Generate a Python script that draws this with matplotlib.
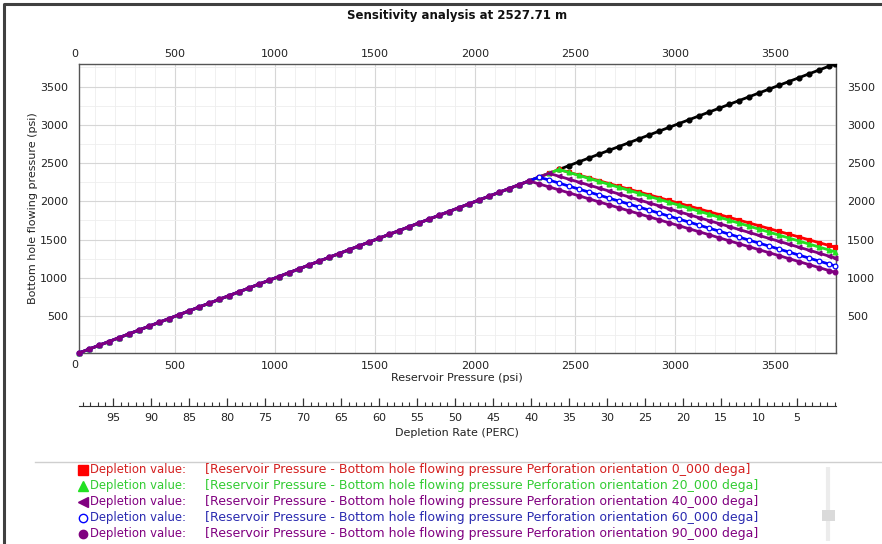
import matplotlib
matplotlib.use("Agg")
import matplotlib.pyplot as plt
from matplotlib.ticker import MultipleLocator, FixedLocator, NullFormatter
from matplotlib.transforms import ScaledTranslation

# Reservoir pressure steps (psi) on the common rising branch
pres_rise = [20, 70, 120, 170, 220, 270, 320, 370, 420, 470, 520, 570, 620, 670,
             720, 770, 820, 870, 920, 970, 1020, 1070, 1120, 1170, 1220, 1270,
             1320, 1370, 1420, 1470, 1520, 1570, 1620, 1670, 1720, 1770, 1820,
             1870, 1920, 1970, 2020, 2070, 2120, 2170, 2220, 2270, 2320, 2370, 2420]
bhp_rise = [16, 66, 116, 166, 216, 266, 316, 366, 416, 466, 516, 566, 616, 666,
            716, 766, 816, 866, 916, 966, 1016, 1066, 1116, 1166, 1216, 1266,
            1316, 1366, 1416, 1466, 1516, 1566, 1616, 1666, 1716, 1766, 1816,
            1866, 1916, 1966, 2016, 2066, 2116, 2166, 2216, 2266, 2316, 2366, 2416]

# Pressure steps above 2420 psi
pres_tail = [2470, 2520, 2570, 2620, 2670, 2720, 2770, 2820, 2870, 2920, 2970,
             3020, 3070, 3120, 3170, 3220, 3270, 3320, 3370, 3420, 3470, 3520,
             3570, 3620, 3670, 3720, 3770, 3800]

bhp_ref_tail = [2466, 2516, 2566, 2616, 2666, 2716, 2766, 2816, 2866, 2916, 2966,
                3016, 3066, 3116, 3166, 3216, 3266, 3316, 3366, 3416, 3466, 3516,
                3566, 3616, 3666, 3716, 3766, 3796]

bhp_0_tail = [2379, 2342, 2306, 2269, 2232, 2195, 2158, 2122, 2085, 2048, 2011,
              1974, 1938, 1901, 1864, 1827, 1790, 1754, 1717, 1680, 1643, 1606,
              1570, 1533, 1496, 1459, 1422, 1400]
bhp_20_tail = [2377, 2338, 2299, 2260, 2221, 2182, 2143, 2104, 2065, 2026, 1987,
               1948, 1909, 1870, 1831, 1792, 1753, 1714, 1675, 1636, 1597, 1558,
               1519, 1480, 1441, 1402, 1363, 1340]
bhp_40_tail = [2327, 2289, 2250, 2211, 2173, 2134, 2095, 2057, 2018, 1979, 1941,
               1902, 1863, 1825, 1786, 1747, 1709, 1670, 1631, 1593, 1554, 1515,
               1477, 1438, 1399, 1361, 1322, 1283, 1260]
bhp_60_tail = [2277, 2238, 2198, 2159, 2120, 2081, 2041, 2002, 1963, 1924, 1885,
               1845, 1806, 1767, 1728, 1688, 1649, 1610, 1571, 1532, 1492, 1453,
               1414, 1375, 1336, 1296, 1257, 1218, 1179, 1155]
bhp_90_tail = [2227, 2188, 2149, 2110, 2071, 2032, 1992, 1953, 1914, 1875, 1836,
               1797, 1758, 1719, 1680, 1641, 1602, 1563, 1523, 1484, 1445, 1406,
               1367, 1328, 1289, 1250, 1211, 1172, 1133, 1094, 1070]

orientations = ["0_000", "20_000", "40_000", "60_000", "90_000"]
line_colors = ["#ff0000", "#22e022", "#800080", "#0000ff", "#800080"]
text_colors = ["#d42020", "#33cc33", "#800080", "#2a2ab0", "#800080"]
markers = ["s", "^", "<", "o", "o"]
hollow = [False, False, False, True, False]

P_INIT = 3800.0
XMIN, XMAX = 20, 3805
YMIN, YMAX = 16, 3795
major_ticks = [500, 1000, 1500, 2000, 2500, 3000, 3500]

series = [
    (pres_rise + pres_tail, bhp_rise + bhp_0_tail),
    (pres_rise + pres_tail, bhp_rise + bhp_20_tail),
    (pres_rise[:48] + [2420] + pres_tail, bhp_rise[:48] + bhp_40_tail),
    (pres_rise[:47] + [2370, 2420] + pres_tail, bhp_rise[:47] + bhp_60_tail),
    (pres_rise[:46] + [2320, 2370, 2420] + pres_tail, bhp_rise[:46] + bhp_90_tail),
]

W, H = 882, 544
fig = plt.figure(figsize=(W / 100, H / 100), dpi=100)
fig.patch.set_facecolor("white")


def px(x0, y0, x1, y1):
    """axes rect from pixel box (top-left origin)"""
    return [x0 / W, 1 - y1 / H, (x1 - x0) / W, (y1 - y0) / H]


tick_col = "#222222"
fs = 8

# frame, legend separator and scrollbar, drawn in pixel coordinates
deco = fig.add_axes([0, 0, 1, 1])
deco.set_xlim(0, W)
deco.set_ylim(H, 0)
deco.axis("off")
deco.set_zorder(-1)
deco.plot([3.5, 3.5, W + 5], [H + 5, 3.5, 3.5], color="#404040", lw=2.2,
          solid_capstyle="butt")
deco.plot([35, W], [462, 462], color="#cfcfcf", lw=1)
deco.plot([828, 828], [467, 541], color="#ececec", lw=3, solid_capstyle="butt")
deco.add_patch(plt.Rectangle((822, 510), 13, 11, facecolor="#dadada", lw=0, zorder=5))

# ── main chart ──────────────────────────────────────────────────────
ax = fig.add_axes(px(79, 64, 836, 353))
ax.plot(pres_rise[-1:] + pres_tail, bhp_rise[-1:] + bhp_ref_tail, color="black",
        lw=2, marker="o", ms=3.4, zorder=3)
for (xs, ys), c, m, h in zip(series, line_colors, markers, hollow):
    ax.plot(xs, ys, color=c, lw=2, marker=m, ms=3.4,
            mfc="white" if h else c, mec=c, mew=0.9, zorder=4, clip_on=False)

ax.set_xlim(XMIN, XMAX)
ax.set_ylim(YMIN, YMAX)
ax.xaxis.set_major_locator(FixedLocator(major_ticks))
ax.xaxis.set_minor_locator(MultipleLocator(100))
ax.yaxis.set_major_locator(FixedLocator(major_ticks))
ax.yaxis.set_minor_locator(MultipleLocator(250))
ax.grid(which="major", color="#d6d6d6", lw=0.8)
ax.grid(which="minor", color="#eeeeee", lw=0.6)
ax.set_axisbelow(True)
ax.tick_params(which="both", length=0, labelsize=fs, labelcolor=tick_col)
ax.tick_params(axis="x", which="major", pad=6, top=True, labeltop=True)
ax.tick_params(axis="y", which="major", pad=8, right=True, labelright=True)
for sp in ax.spines.values():
    sp.set_color("#555555")
    sp.set_linewidth(1.0)

# top tick labels sit a bit closer to the frame
shift = ScaledTranslation(0, -3.5 / 100, fig.dpi_scale_trans)
for t in ax.xaxis.get_major_ticks():
    t.label2.set_transform(t.label2.get_transform() + shift)

# the "0" labels sit at zero pressure, just left of the frame
zero_x = 79 + (0 - XMIN) / (XMAX - XMIN) * (836 - 79)
fig.text(zero_x / W, 1 - 54 / H, "0", ha="center", va="center", fontsize=fs, color=tick_col)
fig.text(zero_x / W, 1 - 365 / H, "0", ha="center", va="center", fontsize=fs, color=tick_col)

fig.text(457 / W, 1 - 378 / H, "Reservoir Pressure (psi)", ha="center", va="center",
         fontsize=fs, color=tick_col)
fig.text(33 / W, 1 - 208 / H, "Bottom hole flowing pressure (psi)", ha="center",
         va="center", rotation=90, fontsize=fs, color=tick_col)
fig.text(457 / W, 1 - 15 / H, "Sensitivity analysis at 2527.71 m", ha="center",
         va="center", fontsize=8.5, fontweight="bold", color="#111111")

# ── depletion rate scale under the chart ────────────────────────────
dep = fig.add_axes(px(79, 400, 836, 406))
dep.set_xlim(100 * (1 - XMIN / P_INIT), 100 * (1 - XMAX / P_INIT))
dep.set_ylim(0, 1)
for s in ["top", "left", "right"]:
    dep.spines[s].set_visible(False)
dep.spines["bottom"].set_color("#333333")
dep.patch.set_alpha(0)
dep.set_yticks([])
dep.xaxis.set_major_locator(FixedLocator(list(range(5, 100, 5))))
dep.xaxis.set_minor_locator(MultipleLocator(1))
dep.xaxis.set_minor_formatter(NullFormatter())
dep.tick_params(axis="x", which="major", direction="in", length=6, width=0.9,
                color="#333333", labelsize=fs, labelcolor=tick_col, pad=5)
dep.tick_params(axis="x", which="minor", direction="in", length=3, width=0.8,
                color="#333333")
fig.text(457 / W, 1 - 433 / H, "Depletion Rate (PERC)", ha="center", va="center",
         fontsize=fs, color=tick_col)

# ── legend rows ─────────────────────────────────────────────────────
for i, (ori, lc, tc, m, h) in enumerate(zip(orientations, line_colors, text_colors,
                                            markers, hollow)):
    y = 470 + 16 * i
    deco.plot([83], [y], marker=m, ms=6.5 if m != "o" else 6, color=lc,
              mfc="white" if h else lc, mec=lc, mew=1.0, ls="none")
    deco.text(90, y, "Depletion value:", ha="left", va="center", fontsize=8.4, color=tc)
    deco.text(205, y, "[Reservoir Pressure - Bottom hole flowing pressure Perforation "
              f"orientation {ori} dega]", ha="left", va="center", fontsize=9.0, color=tc)

fig.savefig("out.png", dpi=100)
